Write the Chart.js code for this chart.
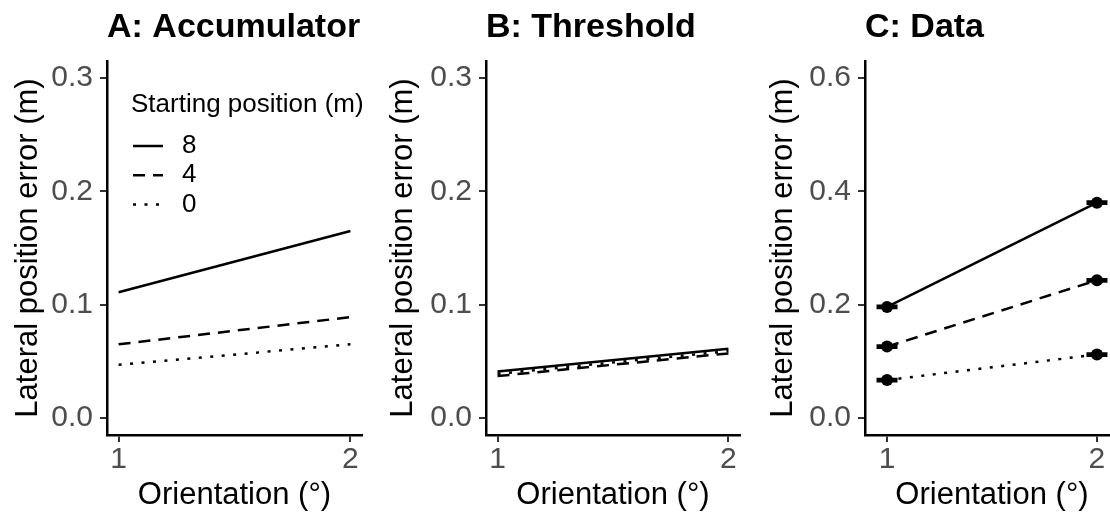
<!DOCTYPE html>
<html>
<head>
<meta charset="utf-8">
<script src="https://cdn.jsdelivr.net/npm/chart.js@4.4.1/dist/chart.umd.min.js"></script>
<style>
  html, body { margin: 0; padding: 0; background: #fff; width: 1110px; height: 515px; overflow: hidden; position: relative; }
  .panel { position: absolute; top: 0; height: 515px; }
</style>
</head>
<body>
<div class="panel" style="left:0px;width:370px"><canvas id="chartA" width="370" height="515"></canvas></div>
<div class="panel" style="left:370px;width:376px"><canvas id="chartB" width="376" height="515"></canvas></div>
<div class="panel" style="left:740px;width:390px"><canvas id="chartC" width="390" height="515"></canvas></div>
<script>
// x values (orientation, degrees) and tick labels
const orientation = [1, 2];
const xTicks = [1, 2];
const startLabels = ['8', '4', '0'];

// A: Accumulator model
const accum8 = [0.111, 0.165];
const accum4 = [0.065, 0.089];
const accum0 = [0.047, 0.065];

// B: Threshold model
const thresh8 = [0.041, 0.061];
const thresh4 = [0.037, 0.057];
const thresh0 = [0.039, 0.059];

// C: Data (means and standard errors)
const data8 = [0.196, 0.380];
const data4 = [0.126, 0.243];
const data0 = [0.067, 0.112];
const se8 = [0.002, 0.002];
const se4 = [0.002, 0.002];
const se0 = [0.002, 0.002];

const yTicksModel = [0, 0.1, 0.2, 0.3];
const yTicksData = [0, 0.2, 0.4, 0.6];

const FONT = '"Liberation Sans", Arial, sans-serif';
const dashes = { '8': [], '4': [12, 8], '0': [3, 8.5] };

function series(ys) {
    return orientation.map((x, i) => ({ x: x, y: ys[i] }));
}

// vertical legend drawn inside panel A
const legendPlugin = {
    id: 'posLegend',
    afterDatasetsDraw(chart, args, opts) {
        if (!opts.show) return;
        const ctx = chart.ctx;
        const left = chart.chartArea.left;
        const top = chart.chartArea.top;
        ctx.save();
        ctx.fillStyle = '#000';
        ctx.strokeStyle = '#000';
        ctx.textBaseline = 'middle';
        ctx.textAlign = 'left';
        ctx.font = '26px ' + FONT;
        ctx.fillText(opts.title, left + 24, top + 44);
        chart.data.datasets.forEach((ds, i) => {
            const y = top + 85 + i * 29.3;
            ctx.beginPath();
            ctx.setLineDash(ds.borderDash);
            ctx.lineWidth = 2.5;
            ctx.moveTo(left + 26, y);
            ctx.lineTo(left + 56, y);
            ctx.stroke();
            ctx.fillText(ds.label, left + 75, y);
        });
        ctx.restore();
    }
};

// error bars for panel C
const errorBarPlugin = {
    id: 'errorBars',
    afterDatasetsDraw(chart, args, opts) {
        if (!opts.se) return;
        const ctx = chart.ctx;
        const xs = chart.scales.x, ys = chart.scales.y;
        ctx.save();
        ctx.strokeStyle = '#000';
        ctx.lineWidth = 2.5;
        ctx.setLineDash([]);
        chart.data.datasets.forEach((ds, i) => {
            ds.data.forEach((p, j) => {
                const e = opts.se[i][j];
                const x0 = xs.getPixelForValue(p.x - opts.width / 2);
                const x1 = xs.getPixelForValue(p.x + opts.width / 2);
                const xc = xs.getPixelForValue(p.x);
                const yl = ys.getPixelForValue(p.y - e);
                const yh = ys.getPixelForValue(p.y + e);
                ctx.beginPath();
                ctx.moveTo(x0, yl); ctx.lineTo(x1, yl);
                ctx.moveTo(x0, yh); ctx.lineTo(x1, yh);
                ctx.moveTo(xc, yl); ctx.lineTo(xc, yh);
                ctx.stroke();
            });
        });
        ctx.restore();
    }
};

function makeChart(id, cfg) {
    return new Chart(document.getElementById(id), {
        type: 'line',
        data: {
            datasets: cfg.series.map((ys, i) => ({
                label: startLabels[i],
                data: series(ys),
                borderColor: '#000',
                borderWidth: 2.5,
                borderDash: dashes[startLabels[i]],
                pointRadius: cfg.points ? 6 : 0,
                pointBackgroundColor: '#000',
                pointBorderWidth: 0,
                tension: 0,
                fill: false
            }))
        },
        options: {
            responsive: false,
            animation: false,
            events: [],
            layout: { padding: { left: 0, right: cfg.padRight, top: 0, bottom: 0 } },
            plugins: {
                legend: { display: false },
                tooltip: { enabled: false },
                title: {
                    display: true,
                    text: cfg.title,
                    align: 'start',
                    fullSize: false,
                    color: '#000',
                    font: { family: FONT, size: 34, weight: 'bold', lineHeight: 1.2 },
                    padding: { top: 7, bottom: 13.2 }
                },
                posLegend: { show: cfg.legend, title: 'Starting position (m)' },
                errorBars: { se: cfg.se, width: 0.1 }
            },
            scales: {
                x: {
                    type: 'linear',
                    min: cfg.xMin,
                    max: cfg.xMax,
                    afterBuildTicks: s => { s.ticks = xTicks.map(v => ({ value: v })); },
                    afterFit: s => { s.height = 80; },
                    grid: { display: true, drawOnChartArea: false, drawTicks: true, tickLength: 7, color: '#333', lineWidth: 2 },
                    border: { display: true, color: '#000', width: 2.5 },
                    ticks: { color: '#4D4D4D', font: { family: FONT, size: 30 }, padding: 0, maxRotation: 0, callback: v => String(v) },
                    title: { display: true, text: 'Orientation (°)', color: '#000', font: { family: FONT, size: 31 }, padding: { top: 0, bottom: 1 } }
                },
                y: {
                    type: 'linear',
                    min: cfg.yMin,
                    max: cfg.yMax,
                    afterBuildTicks: s => { s.ticks = cfg.yTicks.map(v => ({ value: v })); },
                    afterFit: s => { s.width = cfg.chartLeft; },
                    grid: { display: true, drawOnChartArea: false, drawTicks: true, tickLength: 7, color: '#333', lineWidth: 2 },
                    border: { display: true, color: '#000', width: 2.5 },
                    ticks: { color: '#4D4D4D', font: { family: FONT, size: 30 }, padding: 7, callback: v => Number(v).toFixed(1) },
                    title: { display: true, text: 'Lateral position error (m)', color: '#000', font: { family: FONT, size: 31 }, padding: { top: cfg.yTitlePad, bottom: 0 } }
                }
            }
        },
        plugins: [legendPlugin, errorBarPlugin]
    });
}

makeChart('chartA', {
    title: 'A: Accumulator',
    series: [accum8, accum4, accum0],
    yTicks: yTicksModel, yMin: -0.015, yMax: 0.315,
    xMin: 0.95, xMax: 2.05,
    chartLeft: 107, padRight: 8, yTitlePad: 9.5,
    legend: true, points: false, se: null
});

makeChart('chartB', {
    title: 'B: Threshold',
    series: [thresh8, thresh4, thresh0],
    yTicks: yTicksModel, yMin: -0.015, yMax: 0.315,
    xMin: 0.95, xMax: 2.05,
    chartLeft: 116, padRight: 6, yTitlePad: 15,
    legend: false, points: false, se: null
});

makeChart('chartC', {
    title: 'C: Data',
    series: [data8, data4, data0],
    yTicks: yTicksData, yMin: -0.03, yMax: 0.63,
    xMin: 0.895, xMax: 2.105,
    chartLeft: 125, padRight: 11, yTitlePad: 24.5,
    legend: false, points: true, se: [se8, se4, se0]
});
</script>
</body>
</html>
